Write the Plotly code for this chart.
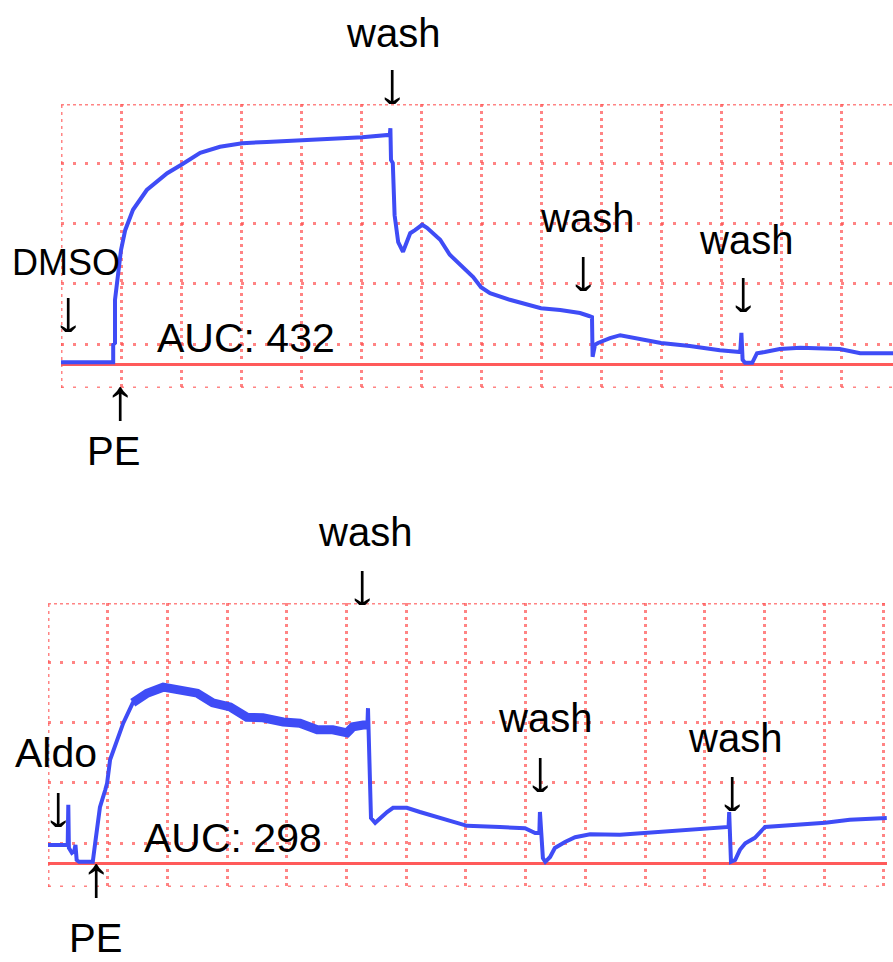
import plotly.graph_objects as go

# ---------------- data (x: time in grid divisions, y: tension in grid divisions above baseline)
dmso_t = [0, 0.87, 0.87, 0.9, 0.9, 0.95, 1.0, 1.07, 1.2, 1.43, 1.77, 2.02, 2.32, 2.65, 3.02, 3.43,
          4.02, 4.48, 5.02, 5.48, 5.49, 5.5, 5.53, 5.56, 5.62, 5.7, 5.82, 5.9, 6.02, 6.1, 6.32,
          6.48, 6.65, 6.87, 7.0, 7.15, 7.48, 7.82, 8.0, 8.32, 8.65, 8.8, 8.85, 8.86, 8.9, 8.95,
          9.15, 9.32, 9.48, 10.0, 10.48, 10.98, 11.32, 11.34, 11.36, 11.4, 11.52, 11.6, 11.73,
          11.98, 12.32, 12.98, 13.32, 13.65, 13.87]
dmso_v = [0.03, 0.03, 0.32, 0.35, 1.07, 1.5, 1.9, 2.23, 2.57, 2.9, 3.18, 3.33, 3.52, 3.62, 3.68, 3.7,
          3.73, 3.75, 3.78, 3.82, 3.93, 3.4, 3.35, 2.48, 2.03, 1.87, 2.18, 2.23, 2.32, 2.27, 2.07,
          1.82, 1.65, 1.45, 1.28, 1.18, 1.07, 0.98, 0.93, 0.9, 0.85, 0.8, 0.78, 0.12, 0.32, 0.35,
          0.43, 0.48, 0.45, 0.35, 0.3, 0.23, 0.2, 0.52, 0.07, 0.02, 0.02, 0.18, 0.2,
          0.25, 0.27, 0.25, 0.18, 0.18, 0.18]

aldo_t = [0, 0.33, 0.34, 0.35, 0.4, 0.44, 0.46, 0.48, 0.52, 0.75, 0.79, 0.87, 0.96, 0.99, 1.04,
          1.12, 1.26, 1.42, 1.66, 1.93, 2.21, 2.5, 2.76, 3.05, 3.33, 3.6, 3.94, 4.22, 4.51, 4.77,
          5.01, 5.11, 5.28, 5.35, 5.36, 5.38, 5.41, 5.48, 5.56, 5.68, 5.78, 6.01, 6.23, 6.68, 6.9,
          7.02, 7.57, 7.99, 8.16, 8.23, 8.24, 8.26, 8.29, 8.33, 8.41, 8.49, 8.66, 8.83, 9.08, 9.58,
          10.0, 10.59, 11.0, 11.34, 11.4, 11.41, 11.43, 11.44, 11.51, 11.59, 11.68, 11.84, 12.01,
          12.43, 13.02, 13.43, 14.05]
aldo_v = [0.3, 0.3, 0.97, 0.25, 0.17, 0.2, 0.3, 0.05, 0.02, 0.02, 0.33, 0.93, 1.22, 1.33, 1.72,
          1.93, 2.33, 2.67, 2.83, 2.93, 2.88, 2.83, 2.67, 2.6, 2.43, 2.42, 2.35, 2.33, 2.22, 2.22,
          2.17, 2.27, 2.3, 2.3, 2.58, 1.88, 0.75, 0.67, 0.75, 0.85, 0.92, 0.92, 0.85, 0.72, 0.67,
          0.62, 0.6, 0.58, 0.5, 0.5, 0.85, 0.5, 0.08, 0.02, 0.1, 0.25, 0.35, 0.43, 0.48, 0.47,
          0.5, 0.55, 0.58, 0.6, 0.6, 0.85, 0.3, 0.02, 0.05, 0.22, 0.33, 0.42, 0.6,
          0.63, 0.67, 0.72, 0.75]

top_labels = ["wash", "wash", "wash", "DMSO", "PE", "AUC: 432"]
bottom_labels = ["wash", "wash", "wash", "Aldo", "PE", "AUC: 298"]

# ---------------- styling
W, H = 893, 962
BLUE = "#3f4cf6"
RED = "#ff5a5a"
GRID = "rgba(255,80,80,0.7)"
FONT = "Liberation Sans, Arial, sans-serif"


def px(x):
    return x / W


def py(y):
    return 1 - y / H


fig = go.Figure()
fig.add_trace(go.Scatter(x=dmso_t, y=dmso_v, mode="lines", line=dict(color=BLUE, width=4),
                         xaxis="x", yaxis="y", showlegend=False))
fig.add_trace(go.Scatter(x=aldo_t, y=aldo_v, mode="lines", line=dict(color=BLUE, width=4),
                         xaxis="x2", yaxis="y2", showlegend=False))
# noisy plateau of the Aldo recording drawn as a thicker band
i0, i1 = aldo_t.index(1.42), aldo_t.index(5.35)
fig.add_trace(go.Scatter(x=aldo_t[i0:i1 + 1], y=aldo_v[i0:i1 + 1], mode="lines",
                         line=dict(color=BLUE, width=9), xaxis="x2", yaxis="y2", showlegend=False))

xcommon = dict(showticklabels=False, ticks="", zeroline=False, showline=False,
               showgrid=True, gridcolor=GRID, gridwidth=3, griddash="3px,4px", tick0=0, dtick=1)
ycommon = dict(showticklabels=False, ticks="", showline=False, showgrid=True,
               gridcolor=GRID, gridwidth=3, griddash="3px,9px", tick0=1 / 3, dtick=1,
               zeroline=True, zerolinecolor=RED, zerolinewidth=3, range=[-0.4, 4.333])

fig.update_layout(
    width=W, height=H, margin=dict(l=0, r=0, t=0, b=0),
    paper_bgcolor="white", plot_bgcolor="white",
    xaxis=dict(domain=[px(61), 1.0], range=[0, 832 / 60], anchor="y", **xcommon),
    yaxis=dict(domain=[py(388), py(104)], anchor="x", **ycommon),
    xaxis2=dict(domain=[px(48), px(887)], range=[0, 839 / 59.7], anchor="y2", **xcommon),
    yaxis2=dict(domain=[py(887), py(603)], anchor="x2", **ycommon),
)

# borders (dense dotted top, dotted bottom, left edge)
for xa, ya, xr in (("x", "y", 832 / 60), ("x2", "y2", 839 / 59.7)):
    fig.add_shape(type="line", xref=xa, yref=ya, x0=0, x1=xr, y0=4.333, y1=4.333,
                  line=dict(color=GRID, width=3, dash="3px,3px"), layer="below")
    fig.add_shape(type="line", xref=xa, yref=ya, x0=0, x1=xr, y0=-0.4, y1=-0.4,
                  line=dict(color=GRID, width=3, dash="3px,9px"), layer="below")
    fig.add_shape(type="line", xref=xa, yref=ya, x0=0, x1=0, y0=-0.4, y1=4.333,
                  line=dict(color=GRID, width=3, dash="3px,4px"), layer="below")

# annotations: (text, x px, y px, size)
labels = [
    (top_labels[0], 393, 33, 40),
    (top_labels[1], 587, 218, 40),
    (top_labels[2], 746, 240, 40),
    (top_labels[3], 66, 262, 36),
    (top_labels[4], 114, 451, 40),
    (top_labels[5], 246, 338, 41),
    (bottom_labels[0], 365, 532, 40),
    (bottom_labels[1], 545, 718, 40),
    (bottom_labels[2], 735, 738, 40),
    (bottom_labels[3], 56, 753, 41),
    (bottom_labels[5], 233, 838, 41),
]
arrows = [
    ("↓", 392, 84), ("↓", 583, 271), ("↓", 743, 292), ("↓", 68, 312), ("↑", 120, 401),
    ("↓", 362, 585), ("↓", 540, 772), ("↓", 732, 791), ("↓", 58, 807), ("↑", 96, 878),
]
for t, x, y, s in labels:
    fig.add_annotation(text=t, x=px(x), y=py(y), xref="paper", yref="paper",
                       xanchor="center", yanchor="middle", showarrow=False,
                       font=dict(family=FONT, size=s, color="black"))
for t, x, y in arrows:
    fig.add_annotation(text=t, x=px(x), y=py(y), xref="paper", yref="paper",
                       xanchor="center", yanchor="middle", showarrow=False,
                       height=40, valign="middle", borderpad=0,
                       font=dict(family=FONT, size=64, color="black"))
fig.add_annotation(text=bottom_labels[4], x=px(95), y=0, xref="paper", yref="paper",
                   xanchor="center", yanchor="bottom", showarrow=False,
                   font=dict(family=FONT, size=40, color="black"))

fig.write_html("out.html")
